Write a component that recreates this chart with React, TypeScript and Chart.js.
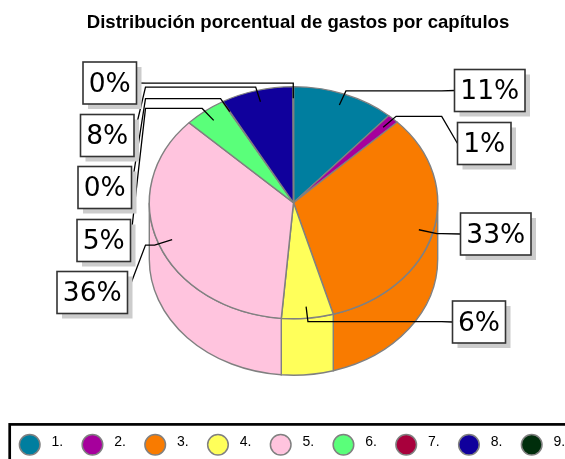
import React, { useEffect, useRef } from "react";
import { Chart, registerables } from "chart.js";

Chart.register(...registerables);

const chapters = ["1.", "2.", "3.", "4.", "5.", "6.", "7.", "8.", "9."];
const shares = [11.5, 1.3, 32.8, 5.8, 35.8, 4.7, 0.05, 8.1, 0.05];
const shareLabels = ["11%", "1%", "33%", "6%", "36%", "5%", "0%", "8%", "0%"];
const sliceColors = ["#007E9F", "#A6009C", "#F97B00", "#FFFF5A", "#FFC4DE", "#5AFF7A", "#A8003C", "#10009C", "#002E0C"];
const titleText = "Distribución porcentual de gastos por capítulos";

// Callout boxes: x, y, w, h
const calloutBoxes = [
  [454.5, 69.5, 70.5, 42],
  [457.5, 122.5, 53.5, 42],
  [460.5, 213, 70.5, 42],
  [452.5, 301, 53, 42],
  [57, 271.5, 70.5, 42],
  [77, 219.5, 53.5, 42],
  [78, 166.5, 53.5, 42],
  [80.5, 114.5, 53.5, 42],
  [83, 62, 53.5, 42],
];

const RX = 144.2;
const RY = 116;
const DEPTH = 56.5;
const EDGE = "#808080";
const TIP = 0.9;
const ELBOW = 1.03;
const COLUMN_LEFT = 145.5;
const COLUMN_RIGHT = 441.7;

const pie3d = {
  id: "pie3d",
  beforeDatasetsDraw(chart: any) {
    const { ctx } = chart;
    const arcs = chart.getDatasetMeta(0).data;
    const cx = arcs[0].x;
    const cy = arcs[0].y;
    ctx.save();
    ctx.lineWidth = 1.4;
    ctx.strokeStyle = EDGE;
    arcs.forEach((arc: any, i: number) => {
      const a = Math.max(arc.startAngle, 0);
      const b = Math.min(arc.endAngle, Math.PI);
      if (b <= a) return;
      ctx.beginPath();
      ctx.moveTo(cx + RX * Math.cos(a), cy + RY * Math.sin(a));
      ctx.ellipse(cx, cy, RX, RY, 0, a, b);
      ctx.lineTo(cx + RX * Math.cos(b), cy + RY * Math.sin(b) + DEPTH);
      ctx.ellipse(cx, cy + DEPTH, RX, RY, 0, b, a, true);
      ctx.closePath();
      ctx.fillStyle = sliceColors[i];
      ctx.fill();
      ctx.stroke();
    });
    ctx.restore();
    ctx.save();
    ctx.translate(cx, cy);
    ctx.scale(RX / arcs[0].outerRadius, RY / arcs[0].outerRadius);
    ctx.translate(-cx, -cy);
  },
  afterDatasetsDraw(chart: any) {
    chart.ctx.restore();
  },
  afterDraw(chart: any) {
    const { ctx } = chart;
    const arcs = chart.getDatasetMeta(0).data;
    const cx = arcs[0].x;
    const cy = arcs[0].y;

    // Title
    ctx.save();
    ctx.fillStyle = "#000";
    ctx.font = 'bold 18.6px "Liberation Sans"';
    ctx.textAlign = "center";
    ctx.textBaseline = "alphabetic";
    ctx.fillText(titleText, 298, 28);
    ctx.restore();

    // Leaders
    ctx.save();
    ctx.strokeStyle = "#000";
    ctx.lineWidth = 1.3;
    arcs.forEach((arc: any, i: number) => {
      const mid = (arc.startAngle + arc.endAngle) / 2;
      const [bx, by, bw, bh] = calloutBoxes[i];
      const left = bx < cx;
      const ex = cx + RX * ELBOW * Math.cos(mid);
      const ey = cy + RY * ELBOW * Math.sin(mid);
      ctx.beginPath();
      ctx.moveTo(cx + RX * TIP * Math.cos(mid), cy + RY * TIP * Math.sin(mid));
      ctx.lineTo(ex, ey);
      ctx.lineTo(left ? COLUMN_LEFT : Math.max(COLUMN_RIGHT, ex), ey);
      ctx.lineTo(left ? bx + bw : bx, by + bh / 2);
      ctx.stroke();
    });
    ctx.restore();

    // Callouts
    ctx.save();
    calloutBoxes.forEach(([x, y, w, h], i) => {
      ctx.fillStyle = "#CCCCCC";
      ctx.fillRect(x + 5, y + 5, w, h);
      ctx.fillStyle = "#FFFFFF";
      ctx.fillRect(x, y, w, h);
      ctx.strokeStyle = "#333333";
      ctx.lineWidth = 1.6;
      ctx.strokeRect(x, y, w, h);
      ctx.fillStyle = "#000";
      ctx.font = '26.5px "DejaVu Sans"';
      ctx.textAlign = "center";
      ctx.textBaseline = "middle";
      ctx.fillText(shareLabels[i], x + w / 2, y + h / 2 + 2);
    });
    ctx.restore();

    // Legend
    ctx.save();
    ctx.strokeStyle = "#000";
    ctx.lineWidth = 2.7;
    ctx.strokeRect(9.7, 424.4, 600, 100);
    chapters.forEach((name, i) => {
      const x = 29.7 + i * 62.75;
      ctx.beginPath();
      ctx.arc(x, 444.7, 10.3, 0, Math.PI * 2);
      ctx.fillStyle = sliceColors[i];
      ctx.fill();
      ctx.strokeStyle = EDGE;
      ctx.lineWidth = 1.5;
      ctx.stroke();
      ctx.fillStyle = "#000";
      ctx.font = '14px "Liberation Sans"';
      ctx.textAlign = "left";
      ctx.textBaseline = "alphabetic";
      ctx.fillText(name, x + 21.8, 446.3);
    });
    ctx.restore();
  },
};

export default function App() {
  const ref = useRef<HTMLCanvasElement>(null);
  useEffect(() => {
    const chart = new Chart(ref.current as HTMLCanvasElement, {
      type: "pie",
      data: {
        labels: chapters,
        datasets: [
          {
            data: shares,
            backgroundColor: sliceColors,
            borderColor: EDGE,
            borderWidth: 1.5,
            clip: false,
          } as any,
        ],
      },
      options: {
        animation: false,
        responsive: false,
        devicePixelRatio: 1,
        radius: 144,
        layout: { padding: { left: 22, right: 0, top: 0, bottom: 53.6 } },
        plugins: { legend: { display: false }, tooltip: { enabled: false }, title: { display: false } },
      } as any,
      plugins: [pie3d],
    });
    return () => chart.destroy();
  }, []);
  return (
    <div style={{ position: "absolute", left: 0, top: 0 }}>
      <canvas ref={ref} width={565} height={459} style={{ display: "block" }} />
    </div>
  );
}
